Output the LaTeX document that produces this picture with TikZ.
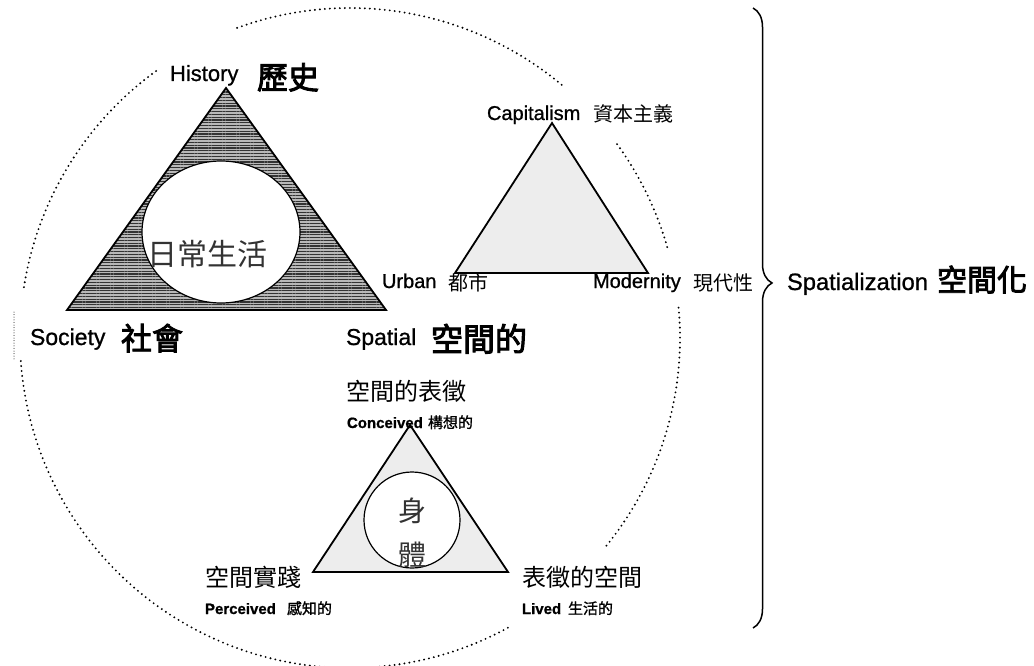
\documentclass[tikz,border=0pt]{standalone}
\usepackage{fontspec}
\setmainfont{Liberation Sans}[FakeBold=0.9]
\newfontfamily\cjk{Noto Sans CJK TC}
\newfontfamily\cjkb{Noto Sans CJK TC}[FakeBold=3]
\newfontfamily\cjkm{Noto Sans CJK TC}[FakeBold=1.2]
\usetikzlibrary{patterns.meta,decorations.pathreplacing}
\begin{document}
\begin{tikzpicture}[x=1pt,y=-1pt,
  lbl/.style={anchor=base west,inner sep=0pt,outer sep=0pt},
  ring/.style={line width=2.1pt,dash pattern=on 0pt off 5pt,line cap=round},
  fine/.style={line width=1pt,dash pattern=on 0pt off 2.6pt,line cap=round},
  tri/.style={line width=1.8pt,line join=miter},
  light/.style={fill=black!7},
  hole/.style={draw,fill=white,line width=1.2pt,inner sep=0pt}]
\useasboundingbox (0,0) rectangle (1034,666);

% dotted ring, broken by labels
\coordinate (C) at (350,338);
\draw[ring] (C) ++(-110:330) arc[start angle=-110,end angle=-50,radius=330];
\draw[ring] (C) ++(-126:330) arc[start angle=-126,end angle=-172,radius=330];
\draw[ring] (C) ++(-184:330) arc[start angle=-184,end angle=-299,radius=330];
\draw[ring] (C) ++(39:330) arc[start angle=39,end angle=-6,radius=330];
\draw[ring] (C) ++(-16:330) arc[start angle=-16,end angle=-36,radius=330];
\coordinate (f1) at (14,312);
\coordinate (f2) at (14,361);
\draw[fine] (f1) -- (f2);

% big hatched triangle
\coordinate (h1) at (226,88);
\coordinate (h2) at (67,310);
\coordinate (h3) at (386,310);
\fill[black!28] (h1) -- (h2) -- (h3) -- cycle;
\fill[pattern={Lines[angle=0,distance=2.8pt,line width=1.3pt]},pattern color=black!80] (h1) -- (h2) -- (h3) -- cycle;
\draw[tri] (h1) -- (h2) -- (h3) -- cycle;
\draw[line width=1.2pt,fill=white] (221,232) ellipse [x radius=79,y radius=71];
\node[lbl,font=\cjk\fontsize{30}{30}\selectfont,text=black!80] (daily) at (147,265) {日常生活};

% capitalism triangle
\coordinate (c1) at (552,123);
\coordinate (c2) at (455,273);
\coordinate (c3) at (648,273);
\draw[tri,light] (c1) -- (c2) -- (c3) -- cycle;

% body triangle
\coordinate (b1) at (410,425);
\coordinate (b2) at (313,572);
\coordinate (b3) at (508,572);
\draw[tri,light] (b1) -- (b2) -- (b3) -- cycle;
\node[hole,circle,minimum size=96pt] (body) at (412,520) {};
\node[lbl,font=\cjk\fontsize{28}{28}\selectfont,text=black!80] (shen) at (398,521) {身};
\node[lbl,font=\cjk\fontsize{28}{28}\selectfont,text=black!80] (ti) at (398,565) {體};

% labels of the big triangle
\node[lbl,font=\fontsize{22}{22}\selectfont] (hist) at (170,81) {History};
\node[lbl,font=\cjkb\fontsize{31}{31}\selectfont] (histc) at (257,89) {歷史};
\node[lbl,font=\fontsize{23}{23}\selectfont] (soc) at (30,345) {Society};
\node[lbl,font=\cjkb\fontsize{31}{31}\selectfont] (socc) at (121,350) {社會};
\node[lbl,font=\fontsize{23}{23}\selectfont] (spa) at (346,345) {Spatial};
\node[lbl,font=\cjkb\fontsize{32}{32}\selectfont] (spac) at (431,351) {空間的};

% labels of the capitalism triangle
\node[lbl,font=\fontsize{20}{20}\selectfont] (cap) at (487,120) {Capitalism};
\node[lbl,font=\cjk\fontsize{20}{20}\selectfont] (capc) at (593,122) {資本主義};
\node[lbl,font=\fontsize{20}{20}\selectfont] (urb) at (382,288) {Urban};
\node[lbl,font=\cjk\fontsize{20}{20}\selectfont] (urbc) at (448,290) {都市};
\node[lbl,font=\fontsize{20}{20}\selectfont] (mod) at (593,288) {Modernity};
\node[lbl,font=\cjk\fontsize{20}{20}\selectfont] (modc) at (693,290) {現代性};

% labels of the body triangle
\node[lbl,font=\cjk\fontsize{24}{24}\selectfont] (rep) at (346,400) {空間的表徵};
\node[lbl,font=\bfseries\fontsize{15}{15}\selectfont] (con) at (347,428) {Conceived};
\node[lbl,font=\cjkm\fontsize{15}{15}\selectfont] (conc) at (428,428) {構想的};
\node[lbl,font=\cjk\fontsize{24}{24}\selectfont] (prac) at (205,586) {空間實踐};
\node[lbl,font=\bfseries\fontsize{15}{15}\selectfont] (per) at (205,614) {Perceived};
\node[lbl,font=\cjkm\fontsize{15}{15}\selectfont] (perc) at (287,614) {感知的};
\node[lbl,font=\cjk\fontsize{24}{24}\selectfont] (rsp) at (522,586) {表徵的空間};
\node[lbl,font=\bfseries\fontsize{15}{15}\selectfont] (liv) at (522,614) {Lived};
\node[lbl,font=\cjkm\fontsize{15}{15}\selectfont] (livc) at (568,614) {生活的};

% brace and spatialization
\coordinate (bt) at (753,8);
\coordinate (bb) at (753,628);
\draw[line width=1.5pt,decorate,decoration={brace,amplitude=19pt,aspect=0.4435}] (bt) -- (bb);
\node[lbl,font=\fontsize{23.7}{24}\selectfont] (sz) at (787,290) {Spatialization};
\node[lbl,font=\cjkb\fontsize{30}{30}\selectfont] (szc) at (937,291) {空間化};
\end{tikzpicture}
\end{document}
